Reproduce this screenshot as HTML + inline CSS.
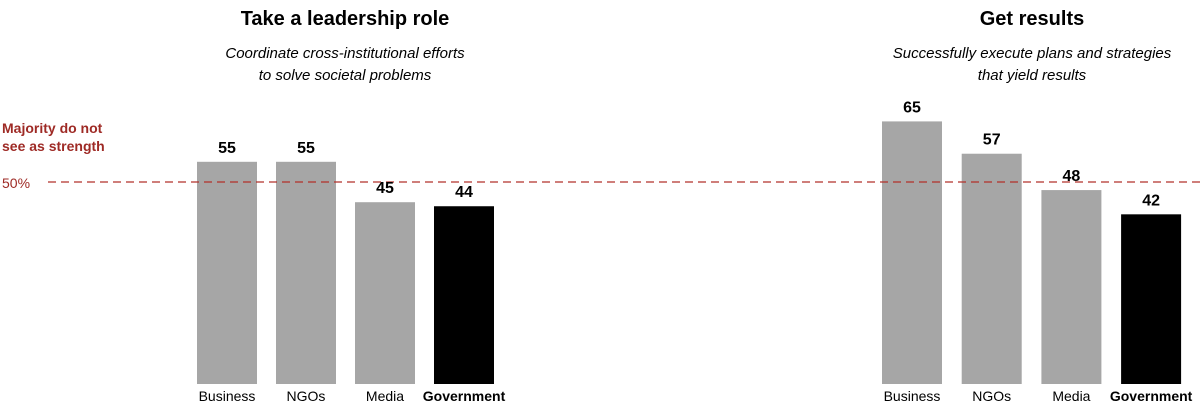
<!DOCTYPE html>
<html><head><meta charset="utf-8"><style>
body{margin:0;background:#fff;font-family:"Liberation Sans",Arial,sans-serif;}
svg{display:block}
</style></head><body>
<svg width="1200" height="404" viewBox="0 0 1200 404">
<g id="static">
<text x="345" y="25" text-anchor="middle" font-size="20" font-weight="bold" fill="#000">Take a leadership role</text>
<text x="345" y="58" text-anchor="middle" font-size="15" font-style="italic" fill="#000">Coordinate cross-institutional efforts</text>
<text x="345" y="80" text-anchor="middle" font-size="15" font-style="italic" fill="#000">to solve societal problems</text>
<text x="1032" y="25" text-anchor="middle" font-size="20" font-weight="bold" fill="#000">Get results</text>
<text x="1032" y="58" text-anchor="middle" font-size="15" font-style="italic" fill="#000">Successfully execute plans and strategies</text>
<text x="1032" y="80" text-anchor="middle" font-size="15" font-style="italic" fill="#000">that yield results</text>
<text x="2" y="133" font-size="14" font-weight="bold" fill="#9e2a25">Majority do not</text>
<text x="2" y="151" font-size="14" font-weight="bold" fill="#9e2a25">see as strength</text>
<text x="2" y="188" font-size="14" fill="#9e2a25">50%</text>
</g>
<g id="bars"></g>
<line id="ref" x1="48" x2="1200" stroke="#b2302a" stroke-width="1.2" stroke-dasharray="8,5"/>
<g id="labels"></g>
</svg>
<script>
const categories = ["Business","NGOs","Media","Government"];
const leadershipValues = [55,55,45,44];
const resultsValues = [65,57,48,42];
const threshold = 50;
const baseY = 384, scale = 4.04;
function yPos(v){return baseY - v*scale;}
const ns="http://www.w3.org/2000/svg";
const bars=document.getElementById('bars'), labels=document.getElementById('labels');
const ref=document.getElementById('ref');
ref.setAttribute('y1',yPos(threshold)); ref.setAttribute('y2',yPos(threshold));
function panel(values, x0, step, name){
  values.forEach((v,i)=>{
    const x=x0+i*step, gov=categories[i]==="Government";
    const r=document.createElementNS(ns,'rect');
    r.setAttribute('x',x);r.setAttribute('y',yPos(v));r.setAttribute('width',60);r.setAttribute('height',v*scale);
    r.setAttribute('fill',gov?'#000':'#a6a6a6');
    
    
    bars.appendChild(r);
    const t=document.createElementNS(ns,'text');
    t.setAttribute('x',x+30);t.setAttribute('y',yPos(v)-9);t.setAttribute('text-anchor','middle');
    t.setAttribute('font-size','16');t.setAttribute('font-weight','bold');t.textContent=v;
    
    
    labels.appendChild(t);
    const c=document.createElementNS(ns,'text');
    c.setAttribute('x',x+30);c.setAttribute('y',401);c.setAttribute('text-anchor','middle');
    c.setAttribute('font-size','14');if(gov)c.setAttribute('font-weight','bold');c.textContent=categories[i];
    
    
    labels.appendChild(c);
  });
}
panel(leadershipValues,197,79,'leadership');
panel(resultsValues,882,79.7,'results');
</script>
</body></html>
